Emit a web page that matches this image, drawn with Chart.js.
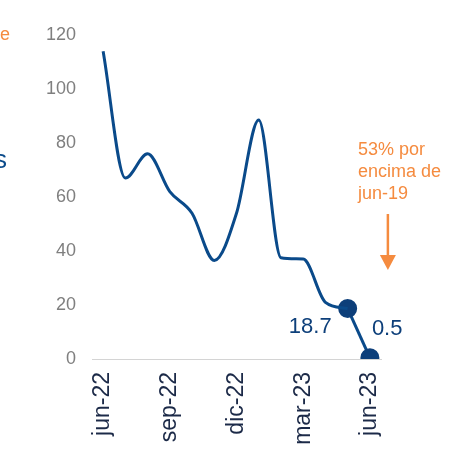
<!DOCTYPE html>
<html>
<head>
<meta charset="utf-8">
<script src="https://cdn.jsdelivr.net/npm/chart.js@4/dist/chart.umd.min.js"></script>
<style>
  html, body { margin: 0; padding: 0; background: #fff; }
  #wrap { width: 451px; height: 457px; position: relative; }
</style>
</head>
<body>
<div id="wrap"><canvas id="chart"></canvas></div>
<script>
const months = ['jun-22', 'jul-22', 'ago-22', 'sep-22', 'oct-22', 'nov-22', 'dic-22',
                'ene-23', 'feb-23', 'mar-23', 'abr-23', 'may-23', 'jun-23'];
const values = [114, 67, 76, 62, 54, 36.5, 54, 88.5, 37.5, 37, 21, 18.7, 0.5];
const yTicks = [0, 20, 40, 60, 80, 100, 120];
const noteLines = ['53% por', 'encima de', 'jun-19'];

const blue = '#0a4a8a';
const orange = '#f58b3f';
const font = '"Liberation Sans", Arial, sans-serif';

const n = values.length;
// línea suave hasta may-23, tramo final recto con puntos
const mainLine = values.map((v, i) => i < n - 1 ? v : null);
const lastLeg = values.map((v, i) => i >= n - 2 ? v : null);

const extras = {
  id: 'extras',
  afterDatasetsDraw(chart) {
    const ctx = chart.ctx;
    const x = chart.scales.x;
    const pts = chart.getDatasetMeta(1).data;
    const pMay = pts[n - 2], pJun = pts[n - 1];
    ctx.save();
    ctx.fillStyle = '#0d3f7a';
    ctx.font = '22px ' + font;
    ctx.textBaseline = 'middle';
    ctx.textAlign = 'right';
    ctx.fillText(String(values[n - 2]), pMay.x - 16, pMay.y + 18);
    ctx.textAlign = 'left';
    ctx.fillText(String(values[n - 1]), pJun.x + 2, pJun.y - 29);

    // nota naranja y flecha
    const ax = x.getPixelForValue(n - 1) + 18;
    ctx.fillStyle = orange;
    ctx.font = '18px ' + font;
    noteLines.forEach((t, i) => ctx.fillText(t, ax - 30, 150 + i * 22));
    ctx.strokeStyle = orange;
    ctx.lineWidth = 2.5;
    ctx.beginPath();
    ctx.moveTo(ax, 214);
    ctx.lineTo(ax, 258);
    ctx.stroke();
    ctx.beginPath();
    ctx.moveTo(ax - 8, 255);
    ctx.lineTo(ax + 8, 255);
    ctx.lineTo(ax, 270);
    ctx.closePath();
    ctx.fill();

    // restos de texto del panel vecino
    ctx.textAlign = 'right';
    ctx.fillText('de', 10, 35);
    ctx.fillStyle = blue;
    ctx.font = '26px ' + font;
    ctx.fillText('s', 7, 161);
    ctx.restore();
  }
};

new Chart(document.getElementById('chart'), {
  type: 'line',
  data: {
    labels: months,
    datasets: [{
      data: mainLine,
      borderColor: blue,
      borderWidth: 3,
      pointRadius: 0,
      cubicInterpolationMode: 'monotone',
      spanGaps: false
    }, {
      data: lastLeg,
      borderColor: blue,
      borderWidth: 3,
      pointRadius: 8,
      pointBackgroundColor: '#0d3f7a',
      pointBorderColor: '#0d3f7a',
      tension: 0
    }]
  },
  options: {
    responsive: true,
    maintainAspectRatio: false,
    animation: false,
    layout: { padding: { top: 35, right: 70, left: 0, bottom: 0 } },
    plugins: { legend: { display: false }, tooltip: { enabled: false } },
    scales: {
      x: {
        offset: true,
        grid: { display: false, drawTicks: false },
        border: { display: true, color: '#d4d4d4', width: 1 },
        ticks: {
          autoSkip: false,
          minRotation: 90,
          maxRotation: 90,
          padding: 13,
          color: '#1c2a48',
          font: { family: font, size: 23 },
          callback: (v, i) => i % 3 === 0 ? months[i] : ''
        },
        afterFit: s => { s.height = 98; }
      },
      y: {
        min: 0,
        max: 120,
        afterBuildTicks: s => { s.ticks = yTicks.map(v => ({ value: v })); },
        grid: { display: false, drawTicks: false },
        border: { display: false },
        ticks: {
          padding: 16,
          color: '#7f7f7f',
          font: { family: font, size: 18 }
        },
        afterFit: s => { s.width = 92; }
      }
    }
  },
  plugins: [extras]
});
</script>
</body>
</html>
